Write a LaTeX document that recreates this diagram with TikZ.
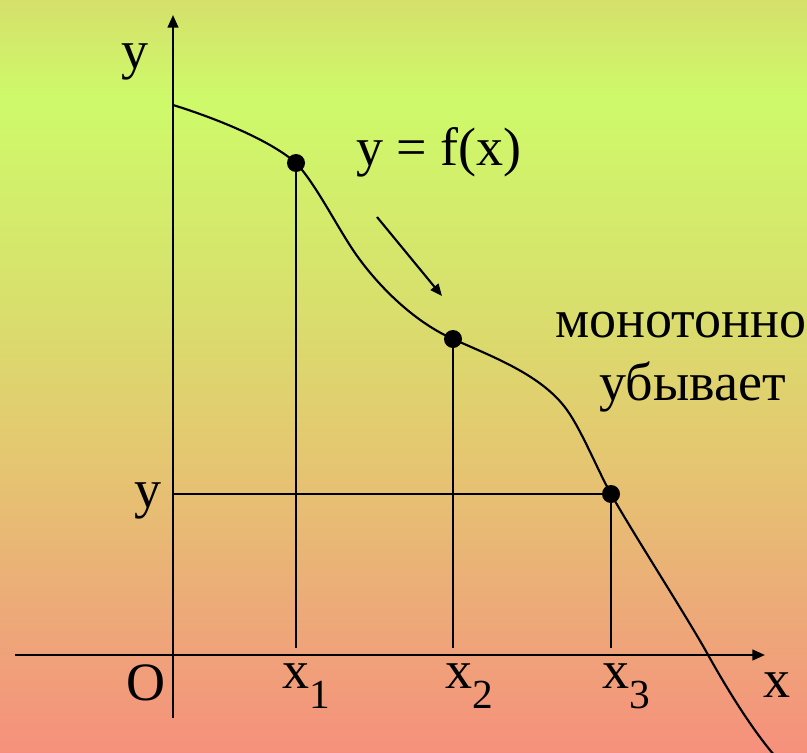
\documentclass[tikz,border=0pt]{standalone}
\usepackage{fontspec}
\setmainfont{Liberation Serif}
\usetikzlibrary{arrows.meta}
\definecolor{cT}{RGB}{213,224,107}
\definecolor{cA}{RGB}{206,250,106}
\definecolor{cB}{RGB}{216,224,108}
\definecolor{cC}{RGB}{228,200,112}
\definecolor{cD}{RGB}{236,172,120}
\definecolor{cE}{RGB}{246,144,124}
\pgfdeclareverticalshading{bgshade}{100bp}{color(0bp)=(cE); color(25bp)=(cE); color(35.16bp)=(cD); color(45.12bp)=(cC); color(55.08bp)=(cB); color(68.36bp)=(cA); color(75bp)=(cT); color(100bp)=(cT)}
\newcommand\subsc[1]{\raisebox{-15pt}{\fontsize{31}{31}\selectfont #1}}
\tikzset{
  axisline/.style={line width=1.7pt, -{Triangle[length=9.5pt,width=8pt]}},
  thin line/.style={line width=1.6pt},
  curveline/.style={line width=1.6pt},
  dotnode/.style={circle, fill=black, inner sep=0pt, minimum size=13.5pt},
  lbl/.style={inner sep=0pt, font=\fontsize{40.5}{48}\selectfont},
  hintarrow/.style={line width=1.6pt, -{Triangle[length=9pt,width=7.5pt]}}
}
\begin{document}
\begin{tikzpicture}[x=0.75pt,y=-0.75pt]
\path[shading=bgshade] (0,0) rectangle (807,753);
\useasboundingbox (0,0) rectangle (807,753);
% axes
\coordinate (ybot) at (173,718);
\coordinate (ytop) at (173,15);
\coordinate (xleft) at (15,655);
\coordinate (xright) at (765,655);
\draw[axisline] (ybot) -- (ytop);
\draw[axisline] (xleft) -- (xright);
% points
\node[dotnode] (p1) at (296,163) {};
\node[dotnode] (p2) at (453,339) {};
\node[dotnode] (p3) at (611,494) {};
\coordinate (c0) at (173,105);
\coordinate (cm1) at (353,250);
\coordinate (cm2) at (567,410);
\coordinate (cm3) at (707,653);
\coordinate (cend) at (782,764);
% curve
\draw[curveline] (c0) .. controls (215,118) and (270,140) .. (p1.center)
  .. controls (315,183) and (335,223) .. (cm1)
  .. controls (371,277) and (408,319) .. (p2.center)
  .. controls (493,357) and (542,375) .. (cm2)
  .. controls (582,431) and (598,471) .. (p3.center)
  .. controls (631,530) and (687,617) .. (cm3)
  .. controls (727,689) and (755,735) .. (cend);
\coordinate (f1) at (296,648);
\coordinate (f2) at (453,648);
\coordinate (f3) at (611,648);
\coordinate (ya) at (173,494);
\draw[thin line] (p1.center) -- (f1);
\draw[thin line] (p2.center) -- (f2);
\draw[thin line] (p3.center) -- (f3);
\draw[thin line] (ya) -- (p3.center);
% hint arrow
\coordinate (a1) at (377,217);
\coordinate (a2) at (442,296);
\draw[hintarrow] (a1) -- (a2);
% labels
\node[lbl, anchor=base west] (ty) at (121,68) {y};
\node[lbl, anchor=base west] (fx) at (356,165) {y = f(x)};
\node[lbl, anchor=base west] (mono) at (555,337) {монотонно};
\node[lbl, anchor=base west] (ubyv) at (599,400) {убывает};
\node[lbl, anchor=base west] (ly) at (134,507) {y};
\node[lbl, anchor=base east] (lo) at (166,700) {O};
\node[lbl, anchor=base west] (lx1) at (282,688) {x\subsc{1}};
\node[lbl, anchor=base west] (lx2) at (445,688) {x\subsc{2}};
\node[lbl, anchor=base west] (lx3) at (602,688) {x\subsc{3}};
\node[lbl, anchor=base west] (lx) at (763,697) {x};
\end{tikzpicture}
\end{document}
